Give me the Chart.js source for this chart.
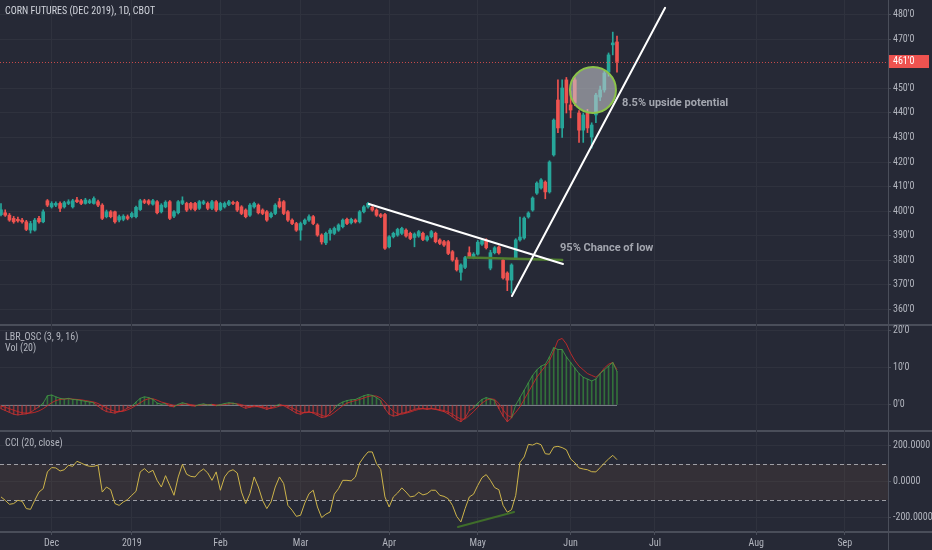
<!DOCTYPE html>
<html>
<head>
<meta charset="utf-8">
<title>Corn futures Dec 2019</title>
<script src="https://cdn.jsdelivr.net/npm/chart.js@4.4.0/dist/chart.umd.min.js"></script>
<style>
  html, body { margin: 0; padding: 0; background: #262936; }
  #wrap { width: 932px; height: 550px; }
</style>
</head>
<body>
<div id="wrap"><canvas id="corn" width="932" height="550"></canvas></div>
<script>
// bar index of the first trading day of each month (future months continue the spacing)
const monthTicks = [12, 31, 52, 71, 92, 113, 135, 155, 179, 200];
const monthLabels = ['Dec', '2019', 'Feb', 'Mar', 'Apr', 'May', 'Jun', 'Jul', 'Aug', 'Sep'];
const priceTicks = [360, 370, 380, 390, 400, 410, 420, 430, 440, 450, 470, 480];
const lbrTicks = [0, 10, 20];
const cciTicks = [-200, 0, 200];
const lastPrice = 461;

// daily candles, cents per bushel
const opens = [
  398.5, 399.3, 398.3, 397, 396.6, 396.3, 395.6, 392.2, 392.2, 397,
  395.6, 404.2, 401.7, 402.4, 403.1, 401.7, 403.1, 401.7, 404.5, 404.2,
  403.1, 403.4, 403.1, 403.8, 402.4, 397.7, 399.7, 399.7, 396.3, 396.6,
  397.7, 397.7, 397.7, 400.6, 404.2, 404.2, 402.8, 403.8, 399.7, 401.7,
  403.8, 397.9, 399.3, 403.1, 403.1, 403.1, 403.1, 401.1, 403.1, 403.1,
  401.1, 403.8, 400.6, 401.7, 402.7, 403.5, 403.5, 401.7, 400.4, 398.3,
  401.7, 402.4, 400.4, 399.7, 397.7, 399, 403.8, 403.8, 399.7, 396.3,
  394.9, 392.2, 394.9, 396.3, 397.7, 394.3, 390.2, 387, 390.9, 390.9,
  392.2, 393.6, 396.6, 395.2, 396.3, 395.6, 399.7, 401.7, 401.5, 400.4,
  398.5, 398.6, 385.4, 389.5, 390.2, 390.9, 392.2, 390.9, 389.2, 389.8,
  390.9, 388.2, 389.5, 390.9, 388.2, 387.5, 387.5, 383.4, 380, 375,
  377, 383, 381, 382.4, 386.5, 388.2, 376.7, 383, 385.3, 380,
  374.7, 371.8, 380.8, 388.2, 389, 397.6, 400.4, 407.3, 409.4, 411.8,
  407.8, 422.9, 445.3, 433.9, 453.5, 443.3, 453.5, 440, 433, 440,
  430.2, 439.2, 446.5, 449.4, 456.7, 467.8, 469
];
const highs = [
  403, 400.5, 399, 397.8, 397.5, 397, 396.2, 395.8, 397, 397.8,
  400.5, 404.7, 403.8, 403.8, 403.8, 404, 404.6, 404.8, 405.6, 404.8,
  405.2, 404.8, 405.8, 404.5, 403, 400.4, 400.2, 400, 398.3, 398.5,
  398.4, 399.6, 402, 404.8, 404.8, 404.7, 404.8, 404.3, 403, 404.2,
  404.3, 400.2, 404.3, 405.8, 403.6, 403.6, 403.6, 404.3, 404.4, 403.7,
  404.4, 404.3, 403.6, 403.7, 404.4, 404.1, 404, 402.2, 400.9, 403,
  403.7, 402.9, 400.9, 400.2, 399.6, 403, 405.2, 404.3, 400.2, 396.8,
  395.4, 395.5, 396.8, 398.4, 398.2, 394.8, 390.7, 391.4, 392.8, 393.5,
  394.8, 396.8, 397.1, 397.1, 396.8, 400.2, 402.2, 403.6, 402, 400.9,
  399, 399.1, 390, 391.4, 393, 393.4, 392.7, 391.4, 391.1, 392.1,
  391.4, 390, 392.1, 391.4, 388.7, 388, 388, 383.9, 381, 378.5,
  381.5, 385.4, 383, 388, 388.6, 388.7, 384, 385.5, 385.8, 380.5,
  375.2, 378.5, 388.7, 397.5, 397.6, 399.7, 405.8, 411.9, 413.2, 412.3,
  420.5, 437.6, 453.5, 453.5, 454.5, 449, 454.5, 441, 440, 441.5,
  436, 448, 451, 457, 464.5, 473, 471.4
];
const lows = [
  398, 397.8, 395.8, 395, 395.5, 395, 392, 391, 391.8, 395,
  395.2, 401.8, 401.2, 401.8, 399.7, 401.2, 402.6, 401.2, 403.4, 402.6,
  402.8, 403, 402.8, 401.8, 396.5, 397.2, 397.2, 395, 395.6, 396,
  396.4, 397.2, 397.2, 400.2, 403, 402.5, 402.4, 398.8, 399.2, 401.3,
  396.5, 397.3, 398.8, 402.6, 399.8, 400.5, 400, 400.6, 402.6, 400.5,
  400.6, 399.8, 400.1, 401.2, 402.2, 402.6, 399.8, 398.5, 397.2, 397.8,
  401.2, 398.8, 398.5, 395.8, 397.2, 398.5, 401.2, 398.5, 395.8, 394.4,
  391.7, 388.1, 394.4, 395.8, 394.4, 389.7, 386.5, 386.3, 388.1, 390.4,
  391.7, 393.1, 394.4, 394.7, 395.1, 395.1, 399.2, 401.2, 399.9, 397.8,
  397.3, 384.3, 384.9, 389, 389.7, 390.4, 389.3, 388.3, 385.4, 389.3,
  387.9, 387.7, 389, 387, 386.3, 385.6, 382.2, 379.5, 375.5, 371.8,
  376.5, 380.8, 380.5, 382, 386, 384.5, 376, 382.5, 382.4, 372.2,
  367.5, 366.5, 380.3, 387.7, 388.5, 397.1, 399.9, 406.8, 408.9, 405,
  407.3, 422.4, 432, 430, 440, 438, 443, 428, 428, 432,
  425.7, 436, 445, 448.5, 455, 463.7, 456.7
];
const closes = [
  400.5, 398.3, 396.3, 395.6, 396, 395.6, 392.5, 394.9, 396.3, 395.6,
  399.7, 402.4, 403.1, 403.1, 401.1, 403.4, 403.8, 404.2, 403.8, 403.1,
  404.5, 404.2, 405.1, 402.4, 397, 399.7, 397.7, 395.6, 397.7, 397.9,
  397, 399, 401.5, 404.2, 403.5, 403.1, 404.2, 399.3, 402.4, 403.6,
  397, 399.7, 403.8, 404.2, 400.4, 401.1, 400.6, 403.8, 403.8, 401.1,
  403.8, 400.4, 403.1, 403.1, 403.8, 403.1, 400.4, 399, 397.7, 402.4,
  403.1, 399.3, 399, 396.3, 399, 402.4, 401.7, 399, 396.3, 394.9,
  392.2, 394.9, 396.3, 397.7, 394.9, 390.2, 387.4, 390.9, 392.2, 392.9,
  394.3, 396.3, 394.9, 396.6, 395.6, 399.7, 401.7, 403.1, 400.4, 398.3,
  397.8, 384.8, 389.5, 390.9, 392.5, 392.9, 389.8, 388.8, 390.6, 391.6,
  388.4, 389.5, 391.6, 387.5, 386.8, 386.1, 382.7, 380, 376, 378,
  381, 381.2, 382.4, 387.3, 388, 385, 383, 385, 382.9, 372.7,
  371.8, 378, 388.2, 389.4, 397.1, 399.2, 405.3, 411.4, 412.7, 407.8,
  420, 437.1, 433.9, 450.2, 444.1, 441.2, 444.1, 433, 439.2, 433.9,
  435.1, 447.3, 449.4, 456.3, 463.7, 468.6, 461
];

// LBR oscillator (3, 9, 16): fast line / histogram and slow line
const lbrFast = [
  -1, -1.5, -2, -2.5, -2.7, -2.5, -2.4, -2, -1.2, -0.5,
  0.5, 2.5, 2.7, 2.2, 1.8, 1.6, 1.8, 1.5, 1.4, 1.2,
  1, 0.8, 0.6, -0.3, -1.2, -1.8, -2, -2.2, -1.8, -1.5,
  -0.8, -0.3, 0.8, 1.8, 2.2, 2, 1.5, 0.5, 0.2, 0.4,
  -0.3, -0.5, 0.2, 0.6, 0.3, -0.2, -0.3, 0.1, 0.3, 0,
  0.2, -0.2, 0.1, 0.4, 0.6, 0.5, 0.2, -0.4, -0.9, -0.6,
  -0.2, -0.5, -0.8, -1.2, -0.8, -0.3, 0.2, -0.2, -0.8, -1.5,
  -2.2, -2.5, -2, -1.8, -2.2, -2.8, -3.4, -3.2, -2.2, -1,
  0.2, 0.8, 1.2, 1.4, 1.5, 2, 2.5, 2.8, 2.6, 2,
  1.2, -1, -2.5, -3, -2.8, -2.2, -2, -1.6, -1.2, -0.9,
  -1, -1.2, -1, -1.2, -1.5, -1.8, -2.4, -3.2, -4, -4.5,
  -3.5, -1.5, -0.8, 0.5, 1.5, 2, 1.6, 1.2, -1, -3,
  -4.5, -3.5, 0, 2, 4, 6, 8, 9.5, 10.5, 11,
  13, 15.5, 15, 15, 13, 11.5, 10, 8.5, 7.5, 7,
  6.5, 7, 8.5, 9.5, 10.5, 11.5, 9
];
const lbrSlow = [
  -0.3, -0.6, -1, -1.4, -1.8, -2.1, -2.2, -2.2, -2, -1.6,
  -1, -0.2, 0.6, 1.2, 1.5, 1.6, 1.7, 1.6, 1.5, 1.4,
  1.2, 1, 0.8, 0.4, -0.2, -0.8, -1.3, -1.7, -1.8, -1.7,
  -1.3, -0.8, -0.1, 0.6, 1.3, 1.7, 1.7, 1.3, 0.8, 0.5,
  0.2, -0.1, -0.1, 0.2, 0.3, 0.1, -0.1, -0.1, 0.1, 0.1,
  0.1, 0, 0, 0.1, 0.3, 0.4, 0.3, 0.1, -0.3, -0.5,
  -0.5, -0.4, -0.5, -0.8, -0.9, -0.7, -0.3, -0.1, -0.3, -0.8,
  -1.4, -1.9, -2.1, -2, -2, -2.3, -2.8, -3.1, -2.8, -2,
  -1.1, -0.2, 0.5, 0.9, 1.2, 1.5, 1.9, 2.3, 2.5, 2.4,
  1.9, 0.8, -0.6, -1.7, -2.4, -2.5, -2.2, -1.9, -1.5, -1.2,
  -1, -1, -1, -1.1, -1.3, -1.5, -1.9, -2.5, -3.2, -3.8,
  -3.8, -2.8, -1.8, -0.6, 0.5, 1.3, 1.7, 1.5, 0.4, -1.3,
  -2.8, -3.3, -2, -0.5, 1.5, 3.5, 5.5, 7.5, 9, 10.5,
  12, 14.5, 17.5, 18, 16.5, 14, 12, 10.5, 9.5, 8.5,
  8, 7.5, 8.5, 10, 11, 11.5, 9.5
];

// CCI (20, close)
const cci = [
  -83, -102, -124, -120, -102, -107, -148, -152, -102, -56,
  -37, 56, 80, 78, 61, 68, 93, 87, 115, 105,
  94, 87, 87, 94, -56, -28, -43, -120, -130, -111,
  -98, -74, -52, 56, 74, 52, 65, 9, -28, 35,
  -19, -74, 28, 98, 43, 31, 28, 56, 72, 50,
  9, 56, -46, 28, 59, 68, 50, -56, -120, -65,
  28, -28, -102, -148, -111, -28, 28, -9, -130, -157,
  -191, -185, -117, -65, -46, -139, -198, -179, -167, -68,
  -37, 9, 9, 6, 28, 105, 139, 167, 167, 102,
  70, -83, -139, -83, -61, -33, -56, -83, -78, -57,
  -72, -65, -46, -46, -74, -80, -93, -130, -191, -222,
  -148, -83, -68, -19, 24, 41, 9, -31, -43, -130,
  -168, -154, -74, 109, 139, 209, 205, 216, 207, 157,
  154, 194, 198, 191, 179, 128, 107, 78, 72, 68,
  57, 56, 80, 105, 128, 148, 124
];

// chart drawings, in [bar index, value]
const trendDown = [[87.2, 402.9], [133.2, 378.4]];
const trendUp = [[121.1, 365.3], [157.4, 482.9]];
const lowLine = [[110.5, 381], [133, 380]];
const cciDivergence = [[108.3, -250], [121.6, -167]];
const circleAt = [140.3, 449.4];
const notes = [
  { text: '8.5% upside potential', at: [147.2, 444.1] },
  { text: '95% Chance of low', at: [132.5, 384.9] }
];

const BG = '#262936';
const GRID = '#2f323e';
const LINE = '#4a4e5a';
const TXT = '#b2b5be';
const UP = '#26a69a';
const DOWN = '#ef5350';
const FONT = '"Liberation Sans Narrow", "Roboto Condensed", Roboto, sans-serif';
const NOTE_FONT = 'bold 11px Roboto, "Liberation Sans", sans-serif';

Chart.defaults.font.family = FONT;
Chart.defaults.font.size = 10;
Chart.defaults.color = TXT;

const candleColor = (ctx) =>
  closes[ctx.dataIndex] >= opens[ctx.dataIndex] ? UP : DOWN;

function line(ctx, x, y, pts) {
  ctx.beginPath();
  ctx.moveTo(x.getPixelForValue(pts[0][0]), y.getPixelForValue(pts[0][1]));
  ctx.lineTo(x.getPixelForValue(pts[1][0]), y.getPixelForValue(pts[1][1]));
  ctx.stroke();
}

const panes = {
  id: 'panes',
  beforeDraw(chart) {
    const { ctx, width, height, chartArea, scales } = chart;
    const { y, y2, y3 } = scales;
    ctx.save();
    ctx.fillStyle = BG;
    ctx.fillRect(0, 0, width, height);
    // pane separators and price axis line, under the axis labels
    ctx.strokeStyle = LINE;
    ctx.lineWidth = 2;
    [y.bottom, y2.bottom, y3.bottom].forEach((py) => {
      ctx.beginPath();
      ctx.moveTo(0, py);
      ctx.lineTo(width, py);
      ctx.stroke();
    });
    ctx.lineWidth = 1;
    ctx.beginPath();
    ctx.moveTo(chartArea.right + 0.5, 0);
    ctx.lineTo(chartArea.right + 0.5, height);
    ctx.stroke();
    ctx.restore();
  },
  beforeDatasetsDraw(chart) {
    const { ctx, chartArea, scales } = chart;
    const { x, y2, y3 } = scales;
    ctx.save();
    // CCI band
    const t = y3.getPixelForValue(100);
    const b = y3.getPixelForValue(-100);
    ctx.fillStyle = 'rgba(150, 100, 60, 0.13)';
    ctx.fillRect(chartArea.left, t, chartArea.right - chartArea.left, b - t);
    ctx.strokeStyle = 'rgba(205, 207, 212, 0.7)';
    ctx.lineWidth = 1;
    ctx.setLineDash([4, 3]);
    [t, b].forEach((py) => {
      ctx.beginPath();
      ctx.moveTo(chartArea.left, Math.round(py) + 0.5);
      ctx.lineTo(chartArea.right, Math.round(py) + 0.5);
      ctx.stroke();
    });
    ctx.setLineDash([]);
    // LBR zero line over the data range
    const z = Math.round(y2.getPixelForValue(0)) + 0.5;
    ctx.strokeStyle = '#787b86';
    ctx.beginPath();
    ctx.moveTo(x.getPixelForValue(0), z);
    ctx.lineTo(x.getPixelForValue(closes.length - 1), z);
    ctx.stroke();
    ctx.restore();
  },
  afterDatasetsDraw(chart) {
    const { ctx, chartArea, scales } = chart;
    const { x, y, y3 } = scales;
    ctx.save();
    // last price line
    const py = Math.round(y.getPixelForValue(lastPrice)) + 0.5;
    ctx.strokeStyle = 'rgba(239, 83, 80, 0.8)';
    ctx.setLineDash([1, 2]);
    ctx.lineWidth = 1;
    ctx.beginPath();
    ctx.moveTo(chartArea.left, py);
    ctx.lineTo(chartArea.right, py);
    ctx.stroke();
    ctx.setLineDash([]);

    // drawings
    ctx.lineCap = 'round';
    ctx.strokeStyle = '#4e7d2f';
    ctx.lineWidth = 2.5;
    line(ctx, x, y, lowLine);
    ctx.strokeStyle = '#ffffff';
    ctx.lineWidth = 2;
    line(ctx, x, y, trendDown);
    line(ctx, x, y, trendUp);
    ctx.strokeStyle = '#3f6d2a';
    ctx.lineWidth = 2;
    line(ctx, x, y3, cciDivergence);

    ctx.beginPath();
    ctx.arc(x.getPixelForValue(circleAt[0]), y.getPixelForValue(circleAt[1]), 23, 0, Math.PI * 2);
    ctx.fillStyle = 'rgba(195, 197, 203, 0.6)';
    ctx.fill();
    ctx.strokeStyle = '#8bc34a';
    ctx.lineWidth = 2;
    ctx.stroke();

    ctx.font = NOTE_FONT;
    ctx.fillStyle = '#a3a6af';
    ctx.textBaseline = 'middle';
    notes.forEach((n) => {
      ctx.fillText(n.text, x.getPixelForValue(n.at[0]), y.getPixelForValue(n.at[1]));
    });
    ctx.restore();
  },
  afterDraw(chart) {
    const { ctx, chartArea, scales } = chart;
    const { y, y2, y3 } = scales;
    ctx.save();
    // last price tag
    const py = y.getPixelForValue(lastPrice);
    ctx.fillStyle = DOWN;
    ctx.fillRect(chartArea.right + 1, py - 6.5, 40, 13);
    ctx.fillStyle = '#ffffff';
    ctx.font = `10px ${FONT}`;
    ctx.textBaseline = 'middle';
    ctx.fillText(`${lastPrice}'0`, chartArea.right + 5, py);

    // pane legends
    ctx.fillStyle = '#d1d4dc';
    ctx.fillText('CORN FUTURES (DEC 2019), 1D, CBOT', 5, y.top + 11);
    ctx.fillStyle = TXT;
    ctx.fillText('LBR_OSC (3, 9, 16)', 5, y2.top + 12);
    ctx.fillText('Vol (20)', 5, y2.top + 23);
    ctx.fillText('CCI (20, close)', 5, y3.top + 12);
    ctx.restore();
  }
};

const yAxis = (weight, min, max, ticks, fmt) => ({
  type: 'linear',
  position: 'right',
  stack: 'panes',
  stackWeight: weight,
  min: min,
  max: max,
  afterBuildTicks: (s) => { s.ticks = ticks.map((v) => ({ value: v })); },
  afterFit: (s) => { s.width = 44; s.paddingTop = 0; s.paddingBottom = 0; },
  grid: { color: GRID, tickColor: LINE, tickLength: 3 },
  border: { display: false },
  ticks: { padding: 2, color: TXT, callback: fmt }
});

const idx = (arr, f) => arr.map((v, i) => ({ x: i, y: f(v, i) }));

new Chart(document.getElementById('corn'), {
  data: {
    datasets: [
      {
        type: 'bar',
        label: 'body',
        order: 1,
        grouped: false,
        data: idx(closes, (c, i) => [opens[i], c]),
        backgroundColor: candleColor,
        barThickness: 3,
        minBarLength: 1,
        yAxisID: 'y'
      },
      {
        type: 'bar',
        label: 'wick',
        order: 2,
        grouped: false,
        data: idx(closes, (c, i) => [lows[i], highs[i]]),
        backgroundColor: candleColor,
        barThickness: 1,
        yAxisID: 'y'
      },
      {
        type: 'bar',
        label: 'LBR histogram',
        order: 3,
        grouped: false,
        data: idx(lbrFast, (v) => [0, v]),
        backgroundColor: (ctx) =>
          lbrFast[ctx.dataIndex] >= 0 ? 'rgba(56, 142, 60, 0.7)' : 'rgba(200, 55, 55, 0.65)',
        barThickness: 1,
        yAxisID: 'y2'
      },
      {
        type: 'line',
        label: 'LBR fast',
        order: 0,
        data: idx(lbrFast, (v) => v),
        borderWidth: 1,
        pointRadius: 0,
        segment: {
          borderColor: (ctx) => (ctx.p1.parsed.y >= 0 ? 'rgba(67, 160, 71, 0.8)' : 'rgba(211, 47, 47, 0.8)')
        },
        yAxisID: 'y2'
      },
      {
        type: 'line',
        label: 'LBR slow',
        order: 0,
        data: idx(lbrSlow, (v) => v),
        borderColor: 'rgba(198, 40, 40, 0.9)',
        borderWidth: 1,
        pointRadius: 0,
        yAxisID: 'y2'
      },
      {
        type: 'line',
        label: 'CCI',
        order: 0,
        data: idx(cci, (v) => v),
        borderColor: '#cdb44a',
        borderWidth: 1,
        pointRadius: 0,
        yAxisID: 'y3'
      }
    ]
  },
  options: {
    responsive: false,
    animation: false,
    events: [],
    layout: { padding: 0 },
    plugins: {
      legend: { display: false },
      tooltip: { enabled: false }
    },
    scales: {
      x: {
        type: 'linear',
        offset: false,
        min: -0.237,
        max: 210.23,
        afterBuildTicks: (s) => { s.ticks = monthTicks.map((v) => ({ value: v })); },
        afterFit: (s) => { s.height = 18; s.paddingLeft = 0; s.paddingRight = 0; },
        grid: { offset: false, color: GRID, tickColor: LINE, tickLength: 3 },
        border: { display: false },
        ticks: {
          autoSkip: false,
          maxRotation: 0,
          padding: 2,
          color: TXT,
          callback: (v) => monthLabels[monthTicks.indexOf(v)] ?? ''
        }
      },
      y: yAxis(325, 353.5, 486.1, priceTicks, (v) => `${v}'0`),
      y2: yAxis(106, -7.03, 21.62, lbrTicks, (v) => `${v}'0`),
      y3: yAxis(101, -278, 283.3, cciTicks, (v) => v.toFixed(4))
    }
  },
  plugins: [panes]
});
</script>
</body>
</html>
